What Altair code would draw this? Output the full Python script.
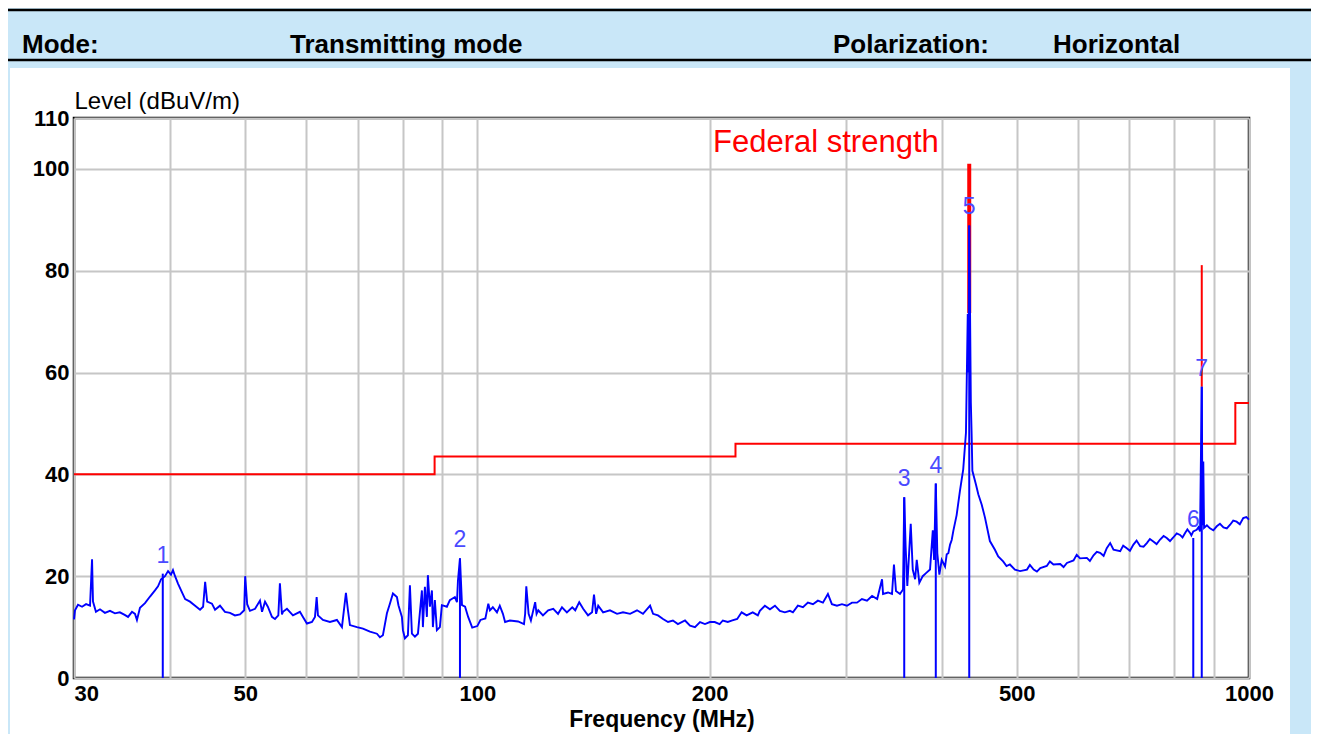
import altair as alt
import pandas as pd

# ---------------- data ----------------
band_30_56 = [
    (30.0, 11.5), (30.09, 13.3), (30.36, 14.4), (30.73, 14.0), (31.1, 14.5), (31.47, 14.2),
    (31.66, 23.3), (31.75, 15.0), (32.03, 13.0), (32.42, 13.5), (32.9, 12.8), (33.4, 13.2),
    (33.9, 12.7), (34.4, 12.9), (34.9, 12.4), (35.25, 12.0), (35.67, 13.0), (35.99, 12.6),
    (36.2, 11.4), (36.53, 13.8), (37.08, 14.7), (37.64, 16.0), (38.2, 17.2), (38.55, 18.0),
    (38.9, 19.4), (39.36, 20.0), (39.72, 21.0), (40.07, 20.3), (40.31, 21.2), (40.56, 20.0),
    (40.93, 18.5), (41.41, 16.8), (41.8, 15.5), (42.41, 15.0), (43.06, 14.2), (43.7, 13.4),
    (44.1, 14.0), (44.37, 18.9), (44.64, 15.0), (45.28, 14.6), (45.7, 13.4), (46.38, 14.2),
    (47.07, 13.0), (47.78, 12.8), (48.5, 12.3), (49.23, 12.5), (49.85, 13.3), (50.0, 20.0),
    (50.3, 14.5), (50.72, 13.2), (51.5, 13.6), (52.26, 15.2), (52.58, 13.0), (53.05, 15.0),
    (53.5, 14.0), (54.16, 12.0), (54.65, 11.6), (55.2, 12.3), (55.46, 18.6), (55.8, 12.5),
]
band_56_103 = [
    (55.97, 13.0), (56.64, 13.6), (57.66, 12.3), (58.88, 13.0), (59.41, 12.0), (60.12, 10.7),
    (61.03, 11.0), (61.58, 12.0), (61.89, 15.9), (62.13, 12.3), (63.06, 11.4), (64.39, 11.0),
    (65.75, 11.4), (66.74, 10.0), (67.54, 16.7), (67.95, 13.3), (68.35, 10.4), (69.8, 10.0),
    (71.06, 9.7), (72.56, 9.1), (74.09, 8.7), (74.75, 8.0), (75.42, 8.4), (76.33, 12.7),
    (77.01, 14.6), (77.71, 16.6), (78.64, 15.9), (79.0, 14.3), (79.82, 12.0), (80.06, 9.4),
    (80.54, 7.8), (81.26, 8.4), (81.75, 18.2), (82.24, 8.7), (82.98, 8.1), (83.73, 8.7),
    (84.73, 17.2), (84.98, 10.0), (85.49, 17.9), (86.0, 12.0), (86.25, 20.2), (86.78, 14.0),
    (87.3, 17.2), (87.55, 10.0), (88.07, 15.3), (88.6, 9.4), (89.4, 10.0), (89.93, 14.3),
    (91.29, 14.0), (92.1, 15.3), (93.49, 15.9), (94.07, 14.9), (94.36, 19.2), (94.92, 23.5),
    (95.5, 14.3), (96.38, 14.0), (97.27, 12.0), (98.46, 9.9), (99.96, 10.2), (100.9, 11.4),
    (102.4, 11.7), (103.3, 14.6),
]
band_103_232 = [
    (103.8, 13.3), (104.7, 13.9), (106.0, 12.9), (106.9, 14.2), (107.9, 12.6), (108.6, 11.0),
    (110.2, 11.3), (112.9, 11.1), (114.9, 10.6), (115.3, 12.6), (115.7, 18.0), (116.5, 12.6),
    (117.3, 11.3), (118.8, 14.9), (119.3, 12.6), (119.9, 13.3), (121.6, 12.3), (123.5, 13.3),
    (125.4, 13.6), (127.2, 12.6), (128.7, 13.9), (130.6, 12.9), (132.7, 13.9), (133.9, 13.3),
    (135.5, 14.9), (137.1, 13.6), (139.1, 12.3), (140.8, 12.9), (141.6, 16.4), (142.5, 12.6),
    (143.4, 14.2), (145.5, 12.9), (148.5, 13.3), (151.7, 12.6), (154.4, 12.9), (157.7, 12.6),
    (161.0, 13.3), (163.9, 12.6), (167.4, 14.2), (168.9, 12.6), (171.4, 12.3), (174.0, 11.6),
    (176.6, 11.0), (179.2, 11.3), (181.9, 10.6), (185.8, 11.3), (188.6, 10.3), (191.4, 10.0),
    (194.3, 11.0), (197.2, 10.6), (200.1, 11.0), (203.0, 11.0), (206.0, 10.6), (208.0, 11.3),
    (211.1, 11.0), (214.0, 11.3), (217.1, 11.6), (220.0, 12.9), (223.3, 12.3), (227.4, 12.9),
    (230.9, 12.3),
]
band_232_400 = [
    (232.3, 13.2), (235.8, 14.2), (239.4, 13.5), (243.0, 14.2), (246.6, 13.2), (250.3, 12.9),
    (254.1, 13.2), (256.4, 12.9), (260.2, 14.2), (264.2, 13.9), (268.1, 14.8), (272.2, 14.5),
    (276.2, 15.2), (280.4, 14.8), (284.6, 16.5), (288.0, 14.5), (292.4, 14.2), (296.8, 14.5),
    (301.2, 14.2), (305.8, 14.8), (310.4, 14.8), (315.0, 15.5), (319.8, 15.2), (324.7, 16.1),
    (329.7, 15.5), (334.5, 19.4), (335.5, 16.5), (340.5, 16.8), (344.6, 16.5), (346.6, 22.3),
    (348.7, 17.1), (352.9, 16.5), (356.1, 17.4), (357.4, 35.5), (358.9, 25.8), (360.7, 18.1),
    (364.4, 30.3), (366.6, 21.3), (369.2, 19.4), (371.0, 23.2), (373.9, 18.7), (377.7, 20.0),
    (381.4, 20.6), (386.0, 21.3), (389.2, 29.0), (390.7, 23.2), (392.7, 38.2), (394.5, 24.5),
    (396.9, 20.3), (399.7, 23.2),
]
band_400_475 = [
    (403.7, 21.9), (405.7, 24.3), (407.7, 24.5), (409.8, 26.2), (411.8, 27.1), (413.8, 28.9),
    (417.9, 32.0), (422.0, 36.7), (426.2, 41.0), (429.7, 48.2), (432.0, 71.5), (432.8, 60.0),
    (433.92, 88.9), (435.0, 71.5), (436.0, 54.1), (437.0, 48.0), (438.0, 40.7), (442.7, 38.0),
    (445.8, 36.1), (450.3, 34.1), (454.8, 31.5), (461.5, 26.9), (468.5, 25.2), (473.1, 23.9),
]
band_475_1000 = [
    (480.1, 22.9), (485.0, 22.0), (489.9, 22.3), (497.3, 21.3), (505.0, 21.0), (515.5, 21.3),
    (520.0, 22.2), (525.9, 21.3), (531.0, 20.9), (536.4, 21.6), (546.9, 22.0), (552.0, 22.9),
    (557.9, 22.3), (569.3, 22.4), (575.0, 21.8), (580.8, 22.6), (592.3, 23.1), (598.0, 24.2),
    (603.9, 23.5), (616.4, 23.6), (622.0, 23.0), (628.8, 24.1), (635.0, 24.8), (641.2, 24.6),
    (648.0, 24.0), (654.1, 25.5), (660.8, 26.5), (667.4, 25.2), (680.9, 24.9), (687.0, 26.0),
    (694.4, 25.5), (701.0, 25.0), (708.3, 26.2), (715.0, 27.0), (722.7, 25.9), (730.0, 25.8),
    (737.2, 26.5), (744.0, 27.3), (751.6, 26.8), (759.0, 26.3), (767.0, 27.2), (775.0, 27.9),
    (782.4, 27.5), (790.0, 26.9), (797.7, 27.6), (806.0, 28.4), (814.0, 28.1), (820.0, 27.6),
    (826.4, 28.5), (832.0, 29.2), (838.7, 28.5), (842.0, 28.0), (846.8, 28.8), (855.5, 29.1),
    (860.0, 29.6), (864.1, 28.8), (868.5, 57.2), (870.5, 30.0), (872.5, 42.5), (874.5, 29.5),
    (882.0, 30.0), (890.0, 29.4), (899.0, 29.0), (908.3, 29.8), (917.0, 30.3), (926.6, 29.6),
    (936.0, 29.4), (945.2, 30.1), (954.0, 30.9), (963.7, 30.7), (973.0, 30.2), (983.0, 31.4),
    (992.0, 31.6), (1000.0, 31.1),
]

limit_edges_mhz = [30, 88, 216, 960, 1000]
limit_level_dbuv = [40.0, 43.5, 46.0, 54.0, 54.0]

fundamental_freq_mhz = [433.92, 868.5]
fundamental_low_dbuv = [71.7, 57.2]
fundamental_high_dbuv = [101.0, 81.1]

marker_labels = ["1", "2", "3", "4", "5", "6", "7"]
marker_freq_mhz = [39.1, 94.92, 357.4, 392.7, 433.92, 846.8, 868.5]
marker_level_dbuv = [20.5, 23.5, 35.5, 38.2, 88.9, 27.5, 57.2]

annotation_text = ["Federal strength"]
annotation_freq_mhz = [202.0]
annotation_level_dbuv = [105.0]

header_texts = ["Mode:", "Transmitting mode", "Polarization:", "Horizontal"]

x_grid_values = [30, 40, 50, 60, 70, 80, 90, 100, 200, 300, 400, 500, 600, 700, 800, 900, 1000]
x_label_values = [30, 50, 100, 200, 500, 1000]
y_axis_values = [0, 20, 40, 60, 80, 100, 110]

# ---------------- tables ----------------
spectrum_pairs = band_30_56 + band_56_103 + band_103_232 + band_232_400 + band_400_475 + band_475_1000
spectrum = pd.DataFrame(spectrum_pairs, columns=["freq", "level"])
limit_df = pd.DataFrame({"freq": limit_edges_mhz, "level": limit_level_dbuv})
fund_df = pd.DataFrame({"freq": fundamental_freq_mhz, "level": fundamental_low_dbuv,
                        "level2": fundamental_high_dbuv})
marker_df = pd.DataFrame({"num": marker_labels, "freq": marker_freq_mhz,
                          "level": marker_level_dbuv, "level0": [0] * len(marker_labels)})
ann_df = pd.DataFrame({"t": annotation_text, "freq": annotation_freq_mhz, "level": annotation_level_dbuv})
one = pd.DataFrame({"k": [0]})

FONT = "Liberation Sans"
BLUE_BG = "#c9e7f8"

label_list = "[" + ",".join(str(v) for v in x_label_values) + "]"
x_scale = alt.Scale(type="log", domain=[30, 1000], nice=False)
y_scale = alt.Scale(domain=[0, 110], nice=False)
x_axis = alt.Axis(
    values=x_grid_values, format="d",
    labelExpr=f"indexof({label_list}, datum.value) >= 0 ? datum.label : ''",
    labelOverlap=False, labelFlush=False,
    labelAlign={"condition": {"test": "datum.value <= 30", "value": "left"}, "value": "center"},
    title="Frequency (MHz)", grid=True, gridColor="#c6c6c6", gridWidth=2,
    ticks=False, domain=False, labelFont=FONT, labelFontSize=22, labelFontWeight="bold",
    labelColor="black", labelPadding=5, titleFont=FONT, titleFontSize=23,
    titleFontWeight="bold", titleColor="black", titlePadding=4,
)
y_axis = alt.Axis(
    values=y_axis_values, grid=True, gridColor="#c6c6c6", gridWidth=2, ticks=False,
    domain=False, labelFont=FONT, labelFontSize=22, labelFontWeight="bold",
    labelColor="black", labelPadding=5, title="Level (dBuV/m)", titleAngle=0,
    titleX=0, titleY=-10, titleAlign="left", titleBaseline="alphabetic",
    titleFont=FONT, titleFontSize=24, titleFontWeight="normal", titleColor="black",
)


def X():
    return alt.X("freq:Q", scale=x_scale, axis=x_axis)


def Y():
    return alt.Y("level:Q", scale=y_scale, axis=y_axis)


# ---------------- decoration (page layout, not data) ----------------
top_band = alt.Chart(one).mark_rect(color=BLUE_BG).encode(
    x=alt.value(-80), x2=alt.value(1250), y=alt.value(-120), y2=alt.value(-50))
left_strip = alt.Chart(one).mark_rect(color=BLUE_BG).encode(
    x=alt.value(-80), x2=alt.value(-64), y=alt.value(-50), y2=alt.value(620))
right_strip = alt.Chart(one).mark_rect(color=BLUE_BG).encode(
    x=alt.value(1216), x2=alt.value(1250), y=alt.value(-50), y2=alt.value(620))
header_box = alt.Chart(one).mark_rect(fill=None, stroke="black", strokeWidth=2.5).encode(
    x=alt.value(-69), x2=alt.value(1242), y=alt.value(-108), y2=alt.value(-58))
header_x = [-52, 216, 759, 979]
header_layers = [
    alt.Chart(one).mark_text(text=t, align="left", baseline="alphabetic", font=FONT,
                             fontSize=26, fontWeight="bold", color="black")
    .encode(x=alt.value(px), y=alt.value(-65))
    for t, px in zip(header_texts, header_x)
]

# ---------------- chart marks ----------------
limit_line = alt.Chart(limit_df).mark_line(color="#ff0000", strokeWidth=2,
                                           interpolate="step-after").encode(x=X(), y=Y())
fund_big = alt.Chart(fund_df.iloc[[0]]).mark_rule(color="#ff0000", strokeWidth=4).encode(
    x=X(), y=Y(), y2="level2:Q")
fund_small = alt.Chart(fund_df.iloc[[1]]).mark_rule(color="#ff0000", strokeWidth=2).encode(
    x=X(), y=Y(), y2="level2:Q")
trace = alt.Chart(spectrum).mark_line(color="#0000ff", strokeWidth=1.9).encode(x=X(), y=Y())
marker_rules = alt.Chart(marker_df).mark_rule(color="#0000ff", strokeWidth=2).encode(
    x=X(), y=Y(), y2="level0:Q")
marker_text = alt.Chart(marker_df).mark_text(
    baseline="bottom", dy=-6, font=FONT, fontSize=23, color="#4a4aff").encode(
    x=X(), y=Y(), text="num:N")
annotation = alt.Chart(ann_df).mark_text(
    align="left", baseline="middle", font=FONT, fontSize=31, color="#ff0000").encode(
    x=X(), y=Y(), text="t:N")

chart = alt.layer(
    top_band, left_strip, right_strip, header_box, *header_layers,
    limit_line, fund_big, fund_small, trace, marker_rules, marker_text, annotation,
).properties(
    width=1175, height=560, background="white",
    padding={"left": 66, "top": 110, "right": 62, "bottom": 56},
    autosize=alt.AutoSizeParams(type="none"),
).configure_view(stroke="black", strokeWidth=2.5)

chart.save("out.html", embed_options={"renderer": "svg", "actions": False})
